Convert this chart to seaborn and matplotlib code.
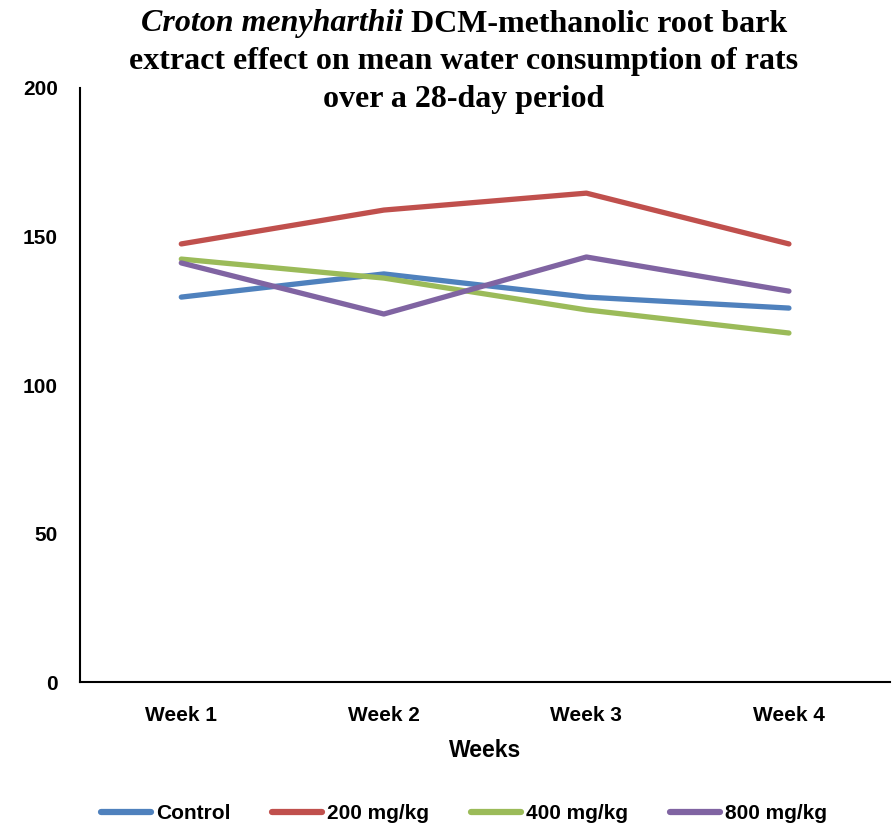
import matplotlib
matplotlib.use('Agg')
import matplotlib.pyplot as plt
import seaborn as sns
import pandas as pd

# data
weeks = ['Week 1', 'Week 2', 'Week 3', 'Week 4']
control = [129.6, 137.4, 129.6, 125.9]
dose_200 = [147.5, 158.9, 164.6, 147.5]
dose_400 = [142.4, 136.0, 125.3, 117.5]
dose_800 = [141.1, 123.9, 143.1, 131.6]
groups = ['Control', '200 mg/kg', '400 mg/kg', '800 mg/kg']
colors = ['#4F81BD', '#C0504D', '#9BBB59', '#8064A2']

df = pd.DataFrame({
    'Week': weeks * 4,
    'Water': control + dose_200 + dose_400 + dose_800,
    'Group': sum([[g] * 4 for g in groups], []),
})

sns.set_style('white')
sans = ['Liberation Sans Narrow', 'Liberation Sans', 'DejaVu Sans']
plt.rcParams['font.family'] = sans
plt.rcParams['text.color'] = 'black'
plt.rcParams['xtick.color'] = 'black'
plt.rcParams['ytick.color'] = 'black'
plt.rcParams['axes.labelcolor'] = 'black'

fig = plt.figure(figsize=(8.92, 8.27), dpi=100)
ax = fig.add_axes([0.0897, 0.1753, 0.9083, 0.7183])

sns.lineplot(data=df, x='Week', y='Water', hue='Group', palette=colors,
             linewidth=3.8, sort=False, ax=ax, legend=False)

ax.set_xlim(-0.5, 3.5)
ax.set_ylim(0, 200)
ax.set_yticks([0, 50, 100, 150, 200])
ax.tick_params(axis='both', length=0, labelsize=15)
ax.tick_params(axis='y', pad=16)
ax.tick_params(axis='x', pad=17)
for lab in ax.get_xticklabels() + ax.get_yticklabels():
    lab.set_fontweight('bold')
ax.set_xlabel('Weeks', fontsize=16.5, fontweight='bold', labelpad=10)
ax.set_ylabel('')
for s in ['top', 'right']:
    ax.spines[s].set_visible(False)
for s in ['left', 'bottom']:
    ax.spines[s].set_color('black')
    ax.spines[s].set_linewidth(1.5)

# legend
handles = [plt.Line2D([0], [0], color=c, lw=4.5) for c in colors]
fig.legend(handles, groups, loc='center', bbox_to_anchor=(0.52, 0.016), ncol=4,
           frameon=False, handlelength=2.4, handletextpad=0.25, columnspacing=2.0,
           prop={'family': sans, 'weight': 'bold', 'size': 15})

# title: italic species name followed by bold upright text
serif = ['Liberation Serif', 'DejaVu Serif']
tsize = 23
fig.canvas.draw()
r = fig.canvas.get_renderer()
cx = 464 / 892
t1a = fig.text(0, 1 - 24 / 827, 'Croton menyharthii ', family=serif, style='italic',
               weight='bold', fontsize=tsize, va='center', ha='left')
t1b = fig.text(0, 1 - 24 / 827, 'DCM-methanolic root bark', family=serif,
               weight='bold', fontsize=tsize, va='center', ha='left')
w1 = t1a.get_window_extent(r).width
w2 = t1b.get_window_extent(r).width
x0 = cx * 892 - (w1 + w2) / 2
t1a.set_x(x0 / 892)
t1b.set_x((x0 + w1) / 892)
fig.text(cx, 1 - 62 / 827, 'extract effect on mean water consumption of rats',
         family=serif, weight='bold', fontsize=tsize, va='center', ha='center')
fig.text(cx, 1 - 99 / 827, 'over a 28-day period',
         family=serif, weight='bold', fontsize=tsize, va='center', ha='center')

fig.savefig('out.png', dpi=100)
